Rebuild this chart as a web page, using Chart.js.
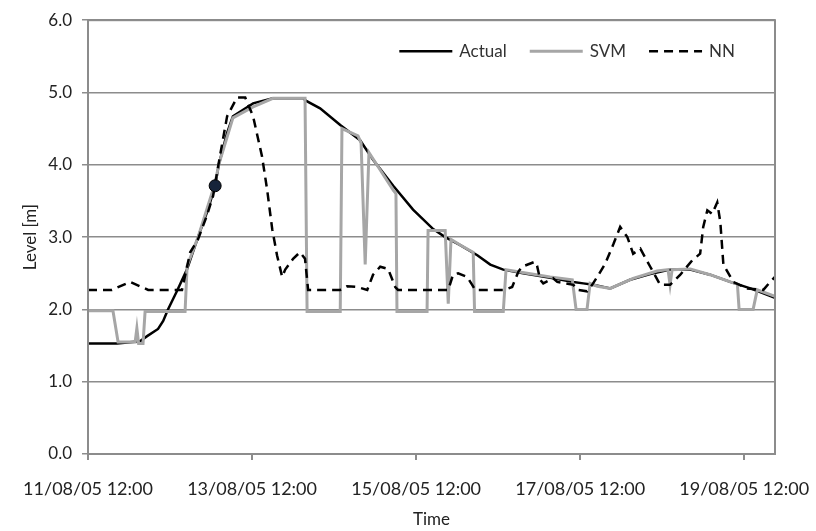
<!DOCTYPE html>
<html>

<head>
    <title>Level forecast</title>
    <script src="https://cdn.jsdelivr.net/npm/chart.js"></script>
    <style>
        body {
            margin: 0;
            background: #fff;
        }
    </style>
</head>

<body>
    <canvas id="level-chart" width="816" height="531"></canvas>

    <script>
        // hours after 11/08/05 12:00
        const tickHours = [0, 48, 96, 144, 192];
        const tickLabels = ['11/08/05 12:00', '13/08/05 12:00', '15/08/05 12:00', '17/08/05 12:00', '19/08/05 12:00'];

        const actualT = [0, 8.5, 15.2, 17.3, 20.5, 22, 23.4, 26, 29, 32.2, 35.1, 37.2, 38.3, 40.7, 42.4, 48.3, 54.1, 62.9,
            64, 67.9, 73.8, 79.6, 83.4, 89.3, 95.1, 101, 104.5, 108.9, 113.9, 117.7, 121.5, 127.3, 136.1, 142, 144.9,
            147.8, 152.8, 158.6, 164.5, 170.3, 176.2, 182, 187.9, 193.8, 201];
        const actualLevel = [1.53, 1.53, 1.56, 1.63, 1.73, 1.84, 2.0, 2.25, 2.56, 3.0, 3.38, 3.71, 4.01, 4.44, 4.67, 4.85, 4.92, 4.92,
            4.88, 4.78, 4.55, 4.34, 4.07, 3.71, 3.38, 3.11, 3.0, 2.89, 2.75, 2.62, 2.55, 2.5, 2.43, 2.38, 2.36,
            2.34, 2.29, 2.41, 2.49, 2.55, 2.55, 2.48, 2.38, 2.29, 2.16];

        const svmT = [0, 7.3, 8.8, 13.8, 14.3, 14.8, 16.1, 16.7, 28.4, 29, 32.2, 37.2, 38.3, 42.4, 48.3, 54.1, 63.5, 64.1,
            73.8, 74.3, 79, 79.9, 81.1, 82.2, 89.3, 90.1, 90.4, 99.2, 99.5, 104.5, 105.4, 106.2, 108.9, 112.7, 113.1,
            121.5, 122.3, 128.5, 135.2, 141.7, 142.8, 146, 146.9, 149, 152.8, 159.5, 166.5, 169.7, 170.3, 170.9, 176.2,
            182, 187.9, 190, 190.5, 194.6, 195.8, 201];
        const svmLevel = [1.98, 1.98, 1.55, 1.55, 1.74, 1.53, 1.53, 1.97, 1.97, 2.6, 3.0, 3.75, 4.01, 4.65, 4.8, 4.92, 4.92, 1.97,
            1.97, 4.5, 4.4, 4.3, 2.62, 4.17, 3.65, 3.6, 1.97, 1.97, 3.09, 3.09, 2.08, 2.97, 2.89, 2.79, 1.97,
            1.97, 2.55, 2.5, 2.45, 2.41, 2.0, 2.0, 2.36, 2.32, 2.29, 2.43, 2.53, 2.55, 2.34, 2.55, 2.56,
            2.48, 2.38, 2.35, 2.0, 2.0, 2.27, 2.18];

        const nnT = [0, 7, 12.3, 17.6, 27.5, 29.9, 32.2, 34.8, 36.6, 38.6, 40.7, 43.6, 46, 48.3, 50.9, 52.4, 53.9, 55.3,
            56.8, 57.7, 60, 62, 63.5, 64.4, 73.8, 75.8, 78.7, 81.7, 83.4, 85.5, 87.8, 89.9, 90.7, 105.4, 106.8, 108.3,
            110.9, 112.4, 113.3, 122, 124.1, 125.9, 127, 130.8, 131.4, 132.3, 133.2, 136.1, 137.3, 142, 143.1, 146,
            147.5, 149, 151.3, 153.7, 155.7, 157.8, 159.5, 161.6, 164.5, 167.4, 170.3, 173.3, 176.8, 179.1, 180,
            181.2, 182.6, 184.1, 185, 185.9, 188.8, 192.9, 197.6, 199.6, 201];
        const nnLevel = [2.27, 2.27, 2.38, 2.27, 2.27, 2.79, 2.97, 3.3, 3.57, 4.12, 4.67, 4.93, 4.93, 4.67, 4.12, 3.66, 3.11, 2.75,
            2.45, 2.55, 2.7, 2.79, 2.7, 2.27, 2.27, 2.32, 2.31, 2.27, 2.48, 2.59, 2.56, 2.31, 2.27, 2.27, 2.48, 2.5,
            2.45, 2.34, 2.27, 2.27, 2.31, 2.52, 2.59, 2.66, 2.6, 2.41, 2.36, 2.43, 2.38, 2.34, 2.27, 2.25,
            2.34, 2.45, 2.63, 2.9, 3.14, 3.0, 2.77, 2.84, 2.59, 2.34, 2.34, 2.48, 2.68, 2.77, 3.14,
            3.37, 3.32, 3.48, 3.21, 2.62, 2.38, 2.29, 2.27, 2.38, 2.45];

        // highlighted point on the rising limb
        const markerT = [37.2];
        const markerLevel = [3.71];

        const toPoints = (xs, ys) => xs.map((x, i) => ({ x: x, y: ys[i] }));

        const fontFamily = 'Lato, "Open Sans", sans-serif';
        const gridGray = '#8c8c8c';

        // plot frame on all four sides
        const plotFrame = {
            id: 'plotFrame',
            afterDraw(chart) {
                const a = chart.chartArea;
                const ctx = chart.ctx;
                ctx.save();
                ctx.strokeStyle = gridGray;
                ctx.lineWidth = 2;
                ctx.strokeRect(a.left, a.top, a.right - a.left, a.bottom - a.top);
                ctx.restore();
            }
        };

        // legend drawn inside the plot, top right
        const insideLegend = {
            id: 'insideLegend',
            afterDraw(chart, args, opts) {
                const ctx = chart.ctx;
                const a = chart.chartArea;
                const items = chart.data.datasets.filter(ds => ds.label);
                ctx.save();
                ctx.font = opts.fontSize + 'px ' + fontFamily;
                ctx.textBaseline = 'middle';
                let total = 0;
                items.forEach((ds, i) => {
                    total += opts.sample + opts.gap + ctx.measureText(ds.label).width;
                    if (i > 0) total += opts.spacing;
                });
                let x = a.right - opts.right - total;
                const y = a.top + opts.top;
                items.forEach(ds => {
                    ctx.beginPath();
                    ctx.strokeStyle = ds.borderColor;
                    ctx.lineWidth = ds.borderWidth;
                    ctx.setLineDash(ds.borderDash || []);
                    ctx.moveTo(x, y);
                    ctx.lineTo(x + opts.sample, y);
                    ctx.stroke();
                    ctx.setLineDash([]);
                    x += opts.sample + opts.gap;
                    ctx.fillStyle = '#333';
                    ctx.fillText(ds.label, x, y);
                    x += ctx.measureText(ds.label).width + opts.spacing;
                });
                ctx.restore();
            }
        };

        new Chart(document.getElementById('level-chart'), {
            type: 'line',
            data: {
                datasets: [
                    {
                        label: 'Actual',
                        data: toPoints(actualT, actualLevel),
                        borderColor: '#000',
                        borderWidth: 2.5,
                        pointRadius: 0,
                        tension: 0,
                        order: 3,
                    },
                    {
                        label: 'SVM',
                        data: toPoints(svmT, svmLevel),
                        borderColor: '#a6a6a6',
                        borderWidth: 3,
                        pointRadius: 0,
                        tension: 0,
                        order: 2,
                    },
                    {
                        label: 'NN',
                        data: toPoints(nnT, nnLevel),
                        borderColor: '#000',
                        borderWidth: 2.5,
                        borderDash: [9, 6],
                        pointRadius: 0,
                        tension: 0,
                        order: 1,
                    },
                    {
                        data: toPoints(markerT, markerLevel),
                        showLine: false,
                        pointRadius: 6,
                        pointBackgroundColor: '#16243a',
                        pointBorderColor: '#000',
                        pointBorderWidth: 1,
                        order: 0,
                    },
                ],
            },
            options: {
                responsive: false,
                animation: false,
                layout: {
                    padding: { top: 16, right: 41, left: 0, bottom: 0 },
                },
                scales: {
                    x: {
                        type: 'linear',
                        min: 0,
                        max: 201,
                        afterBuildTicks: (scale) => {
                            scale.ticks = tickHours.map(v => ({ value: v }));
                        },
                        afterFit: (scale) => {
                            scale.height = 77;
                            // last label may hang into the right margin
                            scale.paddingLeft = 0;
                            scale.paddingRight = 0;
                        },
                        ticks: {
                            autoSkip: false,
                            maxRotation: 0,
                            padding: 18,
                            color: '#222',
                            font: { family: fontFamily, size: 18 },
                            callback: (value) => tickLabels[tickHours.indexOf(value)],
                        },
                        grid: {
                            drawOnChartArea: false,
                            tickLength: 6,
                            color: gridGray,
                            lineWidth: 2,
                        },
                        border: { color: gridGray, width: 2 },
                        title: {
                            display: true,
                            text: 'Time',
                            color: '#222',
                            font: { family: fontFamily, size: 17 },
                            padding: { top: 0, bottom: 1 },
                        },
                    },
                    y: {
                        min: 0,
                        max: 6,
                        afterFit: (scale) => {
                            scale.width = 88;
                        },
                        ticks: {
                            stepSize: 1,
                            padding: 10,
                            color: '#222',
                            font: { family: fontFamily, size: 17 },
                            callback: (value) => value.toFixed(1),
                        },
                        grid: {
                            color: gridGray,
                            lineWidth: 1.5,
                            tickLength: 6,
                        },
                        border: { color: gridGray, width: 2 },
                        title: {
                            display: true,
                            text: 'Level [m]',
                            color: '#222',
                            font: { family: fontFamily, size: 17 },
                            padding: { top: 20, bottom: 0 },
                        },
                    },
                },
                plugins: {
                    legend: { display: false },
                    tooltip: { enabled: false },
                    insideLegend: { sample: 53, gap: 7, spacing: 23, right: 40, top: 31, fontSize: 17 },
                },
            },
            plugins: [plotFrame, insideLegend],
        });
    </script>
</body>

</html>
